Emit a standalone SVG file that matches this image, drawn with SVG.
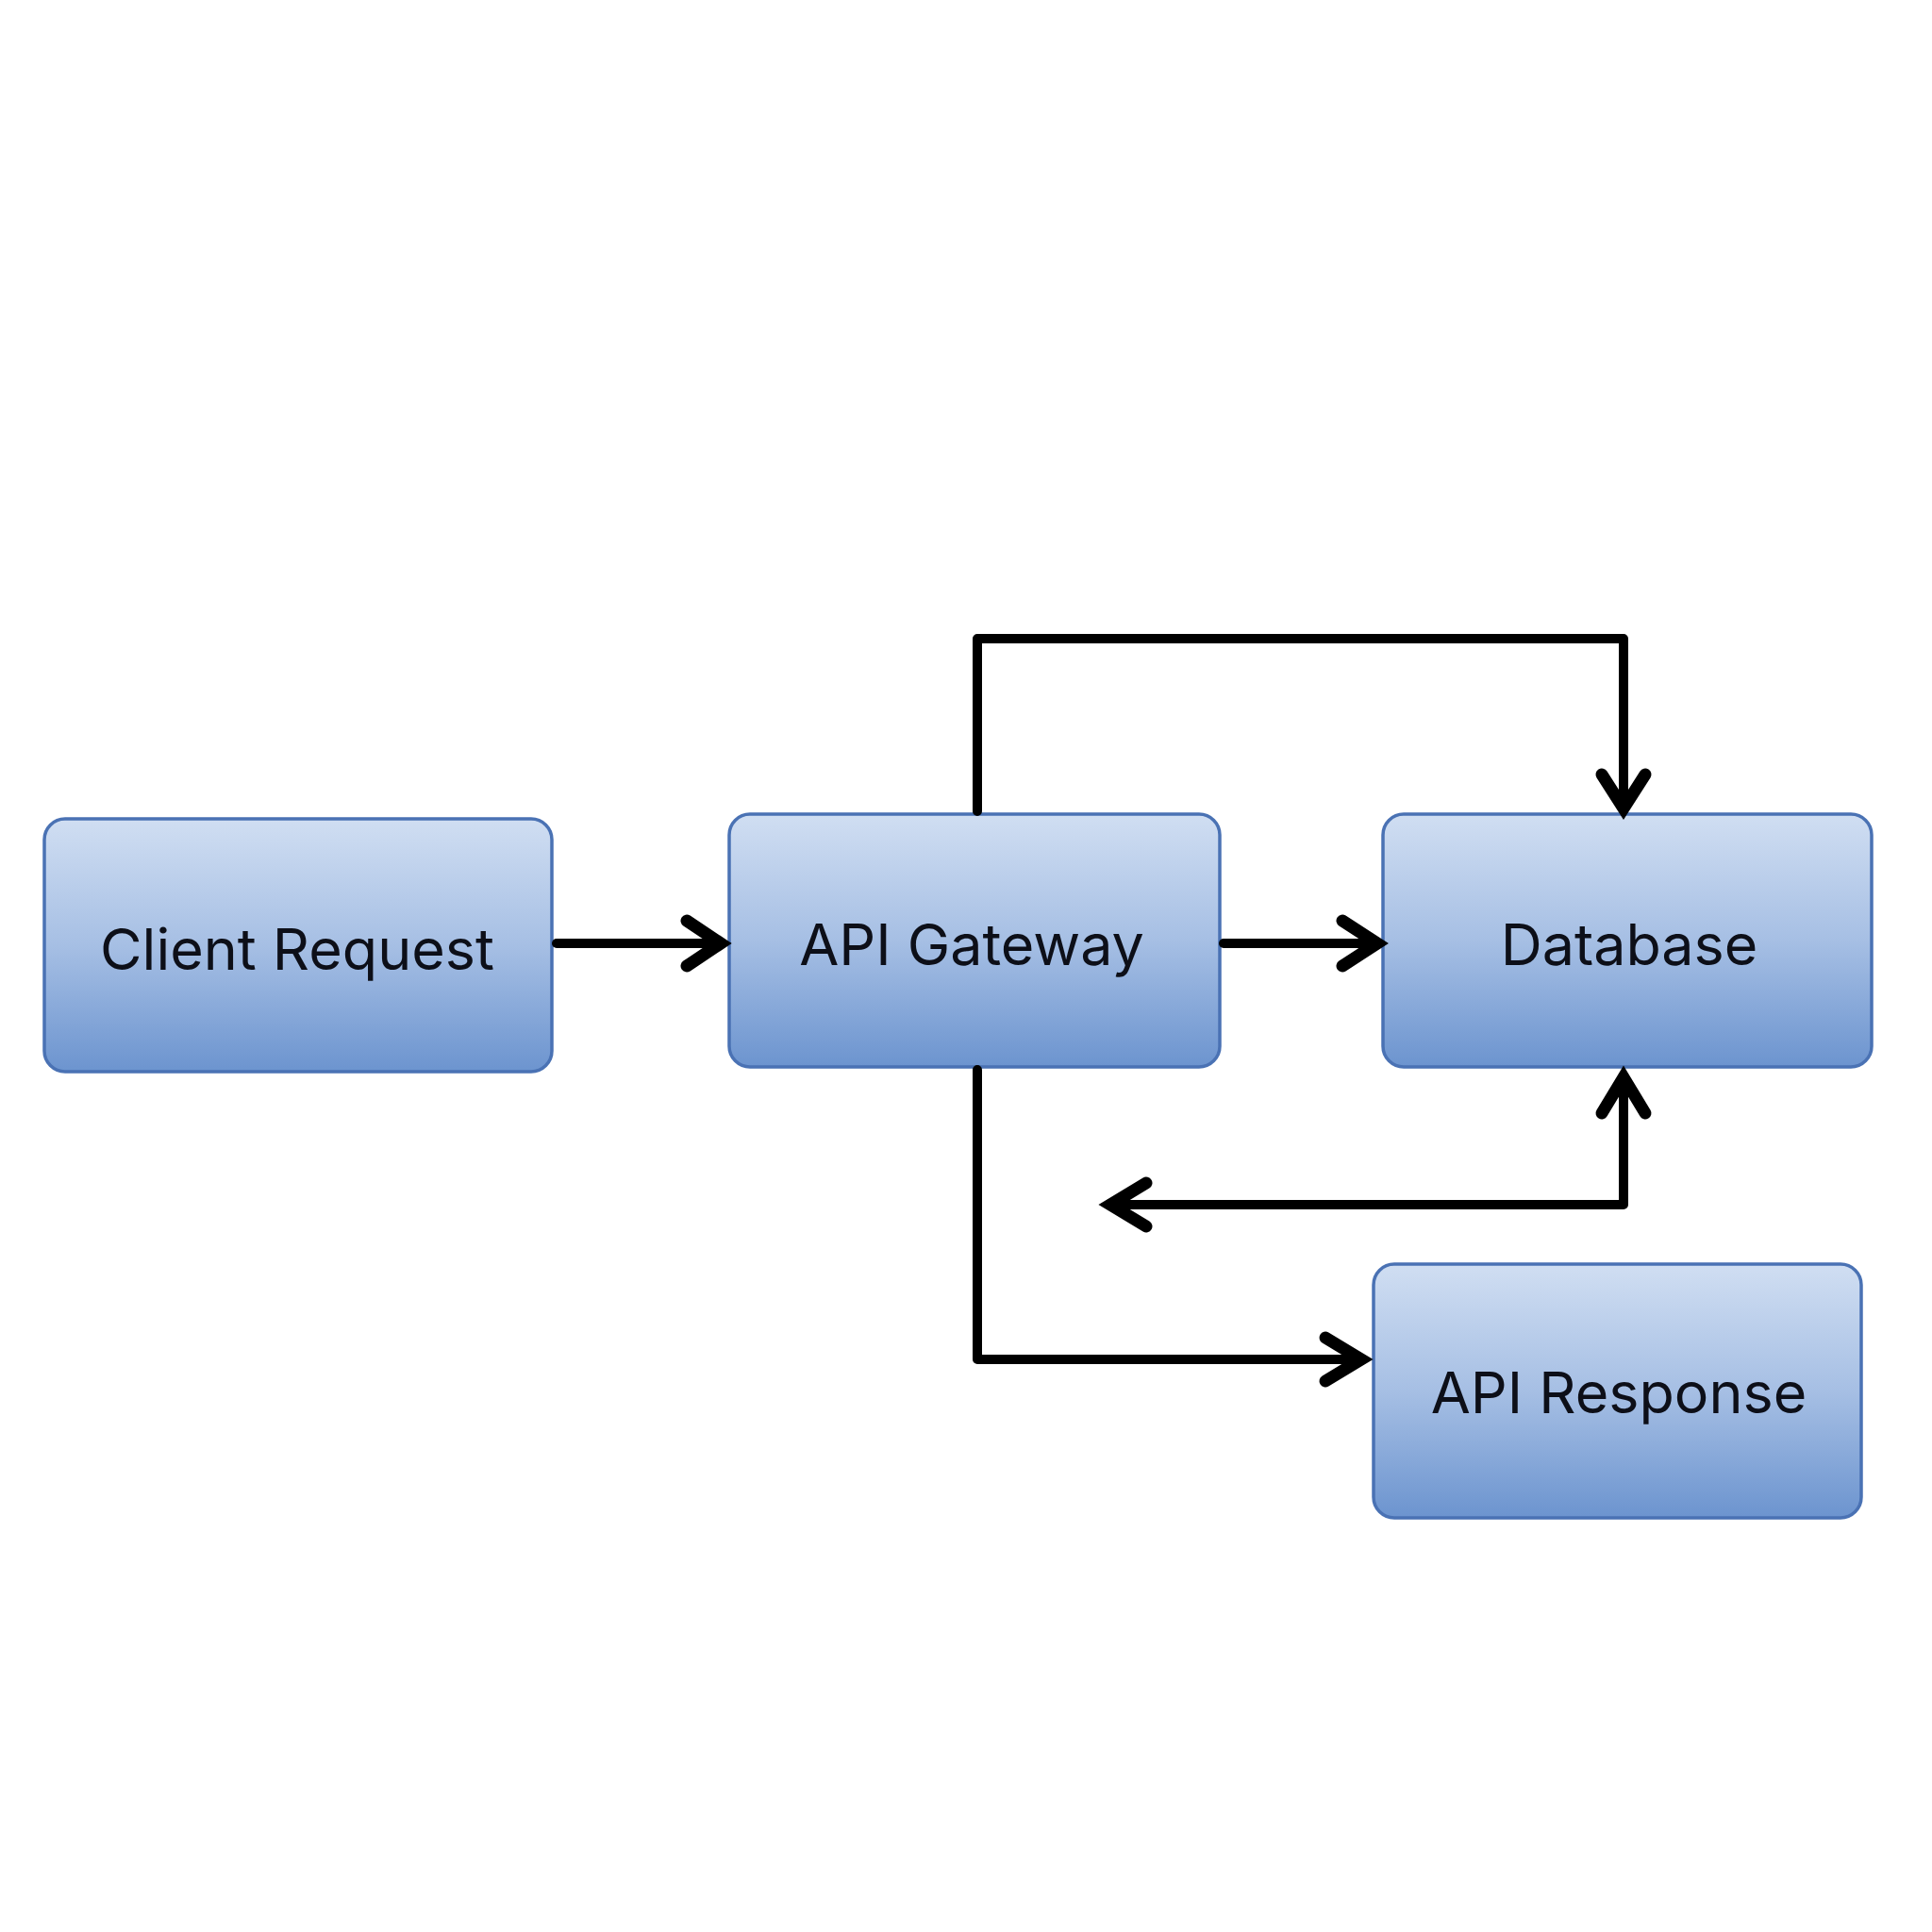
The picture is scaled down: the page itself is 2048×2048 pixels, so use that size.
<svg xmlns="http://www.w3.org/2000/svg" width="2048" height="2048" viewBox="0 0 2048 2048">
<defs>
<linearGradient id="boxGrad" x1="0" y1="0" x2="0" y2="1">
<stop offset="0" stop-color="#d0def2"/>
<stop offset="0.5" stop-color="#a6bfe4"/>
<stop offset="1" stop-color="#6c94cf"/>
</linearGradient>
</defs>
<style>
.box{fill:url(#boxGrad);stroke:#4a72b4;stroke-width:3.5}
.lbl{font-family:Inter,"Liberation Sans",sans-serif;font-size:61px;fill:#0d0f18;text-anchor:middle}
.conn{fill:none;stroke:#000;stroke-width:10;stroke-linejoin:round;stroke-linecap:round}
.head{fill:none;stroke:#000;stroke-width:13;stroke-linejoin:miter;stroke-linecap:round}
</style>
<rect width="2048" height="2048" fill="#ffffff"/>
<g id="node-client">
<rect class="box" x="47" y="868" width="538" height="268" rx="22"/>
<text class="lbl" x="315" y="1028">Client Request</text>
</g>
<g id="node-gateway">
<rect class="box" x="773" y="863" width="520" height="268" rx="22"/>
<text class="lbl" x="1030" y="1023">API Gateway</text>
</g>
<g id="node-database">
<rect class="box" x="1466" y="863" width="518" height="268" rx="22"/>
<text class="lbl" x="1727" y="1023">Database</text>
</g>
<g id="node-response">
<rect class="box" x="1456" y="1340" width="517" height="269" rx="22"/>
<text class="lbl" x="1716" y="1498">API Response</text>
</g>
<g id="connectors">
<path class="conn" d="M590 1000 H762"/>
<path class="head" d="M728 976 L764 1000 L728 1024"/>
<path class="conn" d="M1297 1000 H1458"/>
<path class="head" d="M1423 976 L1460 1000 L1423 1024"/>
<path class="conn" d="M1036 860 V677 H1721 V855"/>
<path class="head" d="M1698 821 L1721 857 L1744 821"/>
<path class="conn" d="M1036 1134 V1441 H1440"/>
<path class="head" d="M1405 1418 L1443 1441 L1405 1464"/>
<path class="conn" d="M1721 1142 V1277 H1178"/>
<path class="head" d="M1698 1180 L1721 1142 L1744 1180"/>
<path class="head" d="M1215 1254 L1177 1277 L1215 1300"/>
</g>
</svg>
